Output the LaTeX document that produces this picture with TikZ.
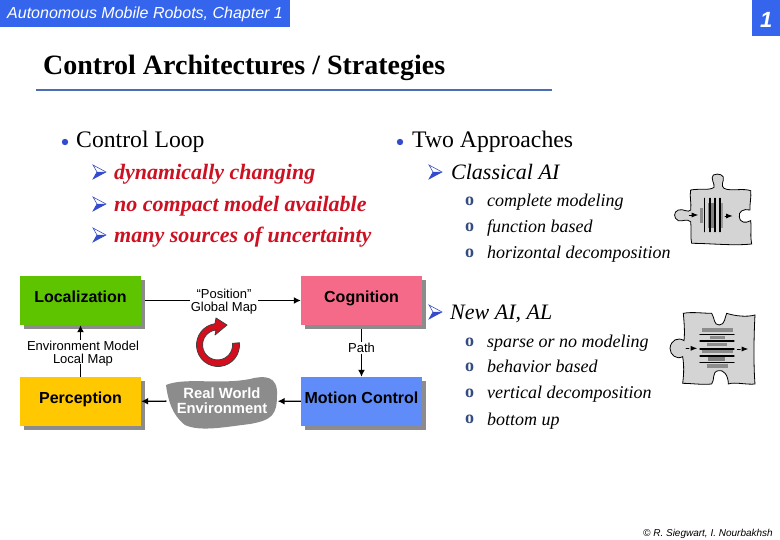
\documentclass[tikz,border=0pt]{standalone}
\usepackage{fontspec}
\setmainfont{Liberation Serif}
\setsansfont{Liberation Sans}
\usetikzlibrary{calc,arrows.meta,positioning}
\definecolor{banda}{HTML}{3565EC}
\definecolor{regla}{HTML}{4A6DB5}
\definecolor{rojo}{HTML}{CC1122}
\definecolor{verde}{HTML}{5FC400}
\definecolor{rosa}{HTML}{F56A88}
\definecolor{oro}{HTML}{FFC800}
\definecolor{azul}{HTML}{5F8CF8}
\definecolor{pieza}{HTML}{D4D4D4}
\newcommand{\fs}[1]{\fontsize{#1}{#1}\selectfont}

\begin{document}
\begin{tikzpicture}[x=1pt,y=-1pt,>=Latex,line cap=round,
      texto/.style={anchor=base west,inner sep=0pt},
      caja/.style={minimum width=121pt,minimum height=49pt,inner sep=0pt,
        font=\sffamily\bfseries\fs{16},text height=11pt,text depth=6.6pt,
        preaction={fill=black!45,transform canvas={xshift=4pt,yshift=-4pt}}},
      rotulo/.style={font=\sffamily\fs{13},align=center,inner sep=1pt,text depth=0pt},
      linea/.style={line width=1.4pt,line cap=butt},
      flujo/.style={->,linea,>={Latex[length=7pt,width=7pt]}},
      pointer/.pic={
        \draw[regla!70!blue,line width=.6pt,line join=miter] (0,-7) -- (13,0) -- (0,7) -- (4,0) -- cycle;
        \fill[regla!70!blue] (4,0) -- (13,0) -- (0,7) -- cycle;}]
    \useasboundingbox (0,0) rectangle (780,540);
    % header
    \fill[banda] (0,0) rectangle (290,27);
    \fill[banda] (752,0) rectangle (780,36);
    \node[texto,white,font=\sffamily\itshape\fs{16}] (capitulo) at (7,19) {Autonomous Mobile Robots, Chapter 1};
    \node[texto,white,font=\sffamily\bfseries\itshape\fs{22}] (pagina) at (760,28) {1};
    \node[texto,font=\bfseries\fs{28}] (titulo) at (43,75) {Control Architectures / Strategies};
    \draw[regla,line width=1.6pt,line cap=butt] (36,90) -- (552,90);
    % left list
    \fill[regla!70!blue] (65,142) circle (3.2);
    \fill[regla!70!blue] (400,142) circle (3.2);
    \node[texto,font=\fs{23.7}] (lazo) at (76,148) {Control Loop};
    \node[texto,font=\fs{23.7}] (enfoques) at (412,148) {Two Approaches};
    \foreach \y/\txt in {180/dynamically changing,212/no compact model available,243/many sources of uncertainty}{
      \pic at (93,\y-8) {pointer};
      \node[texto,rojo,font=\bfseries\itshape\fs{22}] at (114,\y) {\txt};
    }
    % right list
    \pic at (429,172) {pointer};
    \node[texto,font=\itshape\fs{22}] (clasica) at (451,180) {Classical AI};
    \pic at (429,312) {pointer};
    \node[texto,font=\itshape\fs{22}] (nueva) at (450,320) {New AI, AL};
    \foreach \y/\txt in {207/complete modeling,233/function based,259/horizontal decomposition,
        348/sparse or no modeling,373/behavior based,399/vertical decomposition,425/bottom up}{
      \node[texto,regla!70!black,font=\bfseries\fs{18}] at (465,\y-1) {o};
      \node[texto,font=\itshape\fs{18}] at (487,\y) {\txt};
    }
    % loop boxes
    \node[caja,fill=verde] (localizacion) at (80.5,300.5) {Localization};
    \node[caja,fill=rosa] (cognicion) at (361.5,300.5) {Cognition};
    \node[caja,fill=oro] (percepcion) at (80.5,401.5) {Perception};
    \node[caja,fill=azul] (movimiento) at (361.5,401.5) {Motion Control};
    \fill[black!45] (166,385) .. controls (185,377) and (220,385) .. (250,379)
      .. controls (265,375) and (278,376) .. (277,395)
      .. controls (277,415) and (272,420) .. (250,424)
      .. controls (225,427) and (200,432) .. (185,425)
      .. controls (172,415) and (168,400) .. (166,385) -- cycle;
    \node[font=\sffamily\bfseries\fs{14.8},white,align=center,inner sep=0pt,minimum width=111pt,minimum height=50pt] (mundo) at (222,401)
      {\baselineskip=14pt Real World\\Environment};
    \node[rotulo,fill=white] (posicion) at (224,300.5) {\baselineskip=13pt ``Position''\\Global Map};
    \node[rotulo,fill=white] (modelo) at (83,352) {\baselineskip=13pt Environment Model\\Local Map};
    \node[rotulo,fill=white] (ruta) at (361.5,348) {Path};
    \draw[linea] (localizacion.east) ++(4,0) -- (posicion);
    \draw[flujo] (posicion) -- (cognicion);
    \draw[linea] (percepcion.north) -- (percepcion.north |- modelo.south);
    \draw[flujo] (localizacion.south |- modelo.north) -- (localizacion.south);
    \draw[linea] (cognicion.south) ++(0,4) -- (ruta);
    \draw[flujo] (ruta) -- (movimiento);
    \draw[flujo] (movimiento) -- (mundo);
    \draw[flujo] (mundo) -- (percepcion);
    % circular arrow
    \filldraw[fill=rojo!85!red,draw=black!75,line width=.8pt,line join=round]
      (218,345) ++(-6:21.5) arc (-6:262:21.5) -- (216,318) -- (227,325) -- (215,335) -- (216,330)
      arc (264:-6:15) -- cycle;
    % horizontal puzzle piece
    \begin{scope}[shift={(660,160)},x=.3333pt,y=-.3333pt]
      \filldraw[fill=pieza,line width=.8pt] (92,90) .. controls (120,85) and (150,92) .. (162,82)
        .. controls (165,70) and (150,55) .. (160,45) .. controls (175,38) and (195,45) .. (190,60)
        .. controls (185,75) and (185,85) .. (200,88) .. controls (225,92) and (250,85) .. (272,92)
        .. controls (275,110) and (268,135) .. (270,150) .. controls (250,145) and (235,155) .. (238,170)
        .. controls (240,190) and (258,190) .. (272,182) .. controls (275,205) and (270,230) .. (275,252)
        .. controls (220,258) and (150,250) .. (95,250) .. controls (90,230) and (95,205) .. (92,185)
        .. controls (80,175) and (70,185) .. (55,182) .. controls (40,175) and (40,155) .. (55,150)
        .. controls (70,145) and (85,160) .. (92,150) .. controls (95,130) and (88,110) .. (92,90) -- cycle;
      \fill[black!45] (120,145) rectangle (130,188);
      \fill[black!50] (145,130) rectangle (162,205);
      \fill[black!40] (178,128) rectangle (190,205);
      \foreach \x in {133,150,165,180}{\draw[line width=1.2pt] (\x,115) -- (\x,215);}
      \draw[->,line width=.8pt] (88,165) -- (115,165);
      \draw[->,line width=.8pt] (195,168) -- (218,168);
    \end{scope}
    % vertical puzzle piece
    \begin{scope}[shift={(660,300)},x=.3333pt,y=-.3333pt]
      \filldraw[fill=pieza,line width=.8pt] (70,40) .. controls (95,35) and (130,40) .. (155,40)
        .. controls (165,55) and (160,75) .. (178,75) .. controls (195,75) and (195,50) .. (200,40)
        .. controls (225,48) and (260,52) .. (285,45) .. controls (282,100) and (280,190) .. (285,252)
        .. controls (260,255) and (225,245) .. (205,252) .. controls (205,225) and (190,208) .. (175,212)
        .. controls (155,215) and (165,240) .. (155,252) .. controls (125,255) and (95,250) .. (68,250)
        .. controls (72,220) and (72,195) .. (68,170) .. controls (50,180) and (30,165) .. (30,145)
        .. controls (32,120) and (55,110) .. (72,122) .. controls (75,95) and (72,65) .. (70,40) -- cycle;
      \fill[black!45] (125,85) rectangle (218,97);
      \fill[black!45] (150,107) rectangle (195,118);
      \fill[black!45] (142,128) rectangle (202,138);
      \fill[black!45] (125,150) rectangle (218,160);
      \fill[black!50] (145,168) rectangle (195,184);
      \fill[black!45] (140,192) rectangle (205,204);
      \foreach \y in {103,123,147,168,188}{\draw[line width=1.2pt] (120,\y) -- (222,\y);}
      \draw[->,line width=.8pt,dashed] (78,145) -- (112,145);
      \draw[->,line width=.8pt,dashed] (232,147) -- (265,147);
    \end{scope}
    \node[anchor=base east,inner sep=0pt,font=\sffamily\itshape\fs{10}] (autores) at (773,536) {© R. Siegwart, I. Nourbakhsh};
\end{tikzpicture}
\end{document}
